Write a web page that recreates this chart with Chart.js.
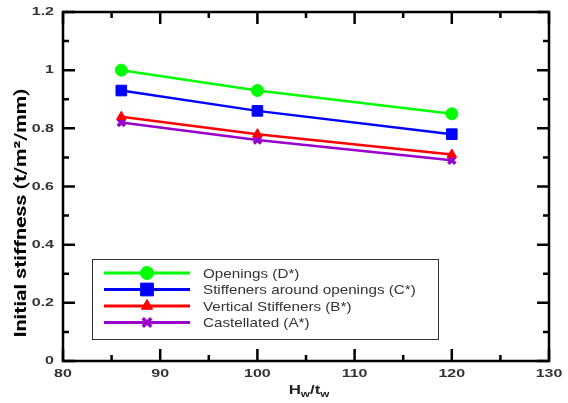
<!DOCTYPE html>
<html>
<head>
<meta charset="utf-8">
<script src="https://cdn.jsdelivr.net/npm/chart.js@4"></script>
<style>
  html, body { margin: 0; padding: 0; background: #fff; }
  #wrap { width: 568px; height: 403px; }
</style>
</head>
<body>
<div id="wrap"><canvas id="myChart" width="568" height="403"></canvas></div>
<script>
// data
const ratios = [86, 100, 120];
const openings = [1.0, 0.93, 0.85];
const stiffAround = [0.93, 0.86, 0.78];
const vertical = [0.84, 0.78, 0.71];
const castellated = [0.82, 0.76, 0.69];

const xTicks = [80, 90, 100, 110, 120, 130];
const yTicks = [0, 0.2, 0.4, 0.6, 0.8, 1, 1.2];

function pts(vals) {
    return ratios.map((x, i) => ({ x: x, y: vals[i] }));
}

function series(label, vals, color, style, radius) {
    return {
        label: label,
        data: pts(vals),
        borderColor: color,
        backgroundColor: color,
        pointBackgroundColor: color,
        pointBorderColor: color,
        pointStyle: style,
        pointRadius: radius,
        pointBorderWidth: style === 'crossRot' ? 3.5 : 1,
        borderWidth: 2.5,
        tension: 0
    };
}

// text squeezed / stretched to a given width (the reference is stretched sideways)
function wideText(ctx, text, x, y, sx, align) {
    ctx.save();
    ctx.translate(x, y);
    ctx.scale(sx, 1);
    ctx.textAlign = align;
    ctx.fillText(text, 0, 0);
    ctx.restore();
}

// frame, inward ticks, labels, axis titles, legend
const framePlugin = {
    id: 'frame',
    afterDatasetsDraw(chart) {
        const ctx = chart.ctx;
        const a = chart.chartArea;
        const xs = chart.scales.x, ys = chart.scales.y;
        ctx.save();
        ctx.strokeStyle = '#000';
        ctx.lineWidth = 2.5;
        ctx.strokeRect(a.left, a.top, a.right - a.left, a.bottom - a.top);

        ctx.beginPath();
        for (let v = 80; v <= 130; v += 5) {
            const px = xs.getPixelForValue(v);
            const len = v % 10 === 0 ? 12 : 6;
            ctx.moveTo(px, a.bottom); ctx.lineTo(px, a.bottom - len);
            ctx.moveTo(px, a.top); ctx.lineTo(px, a.top + len);
        }
        for (let i = 0; i <= 12; i++) {
            const py = ys.getPixelForValue(i / 10);
            const len = i % 2 === 0 ? 12 : 6;
            ctx.moveTo(a.left, py); ctx.lineTo(a.left + len, py);
            ctx.moveTo(a.right, py); ctx.lineTo(a.right - len, py);
        }
        ctx.stroke();

        // tick labels
        ctx.fillStyle = '#333';
        ctx.font = 'bold 10px "Liberation Sans", Arial, sans-serif';
        ctx.textBaseline = 'middle';
        xTicks.forEach(v => {
            wideText(ctx, String(v), xs.getPixelForValue(v), 374, 1.6, 'center');
        });
        yTicks.forEach(v => {
            wideText(ctx, String(v), 54, ys.getPixelForValue(v) + 0.5, 1.6, 'right');
        });

        // y title
        ctx.fillStyle = '#000';
        ctx.font = 'bold 17px Roboto, "Noto Sans", sans-serif';
        ctx.textBaseline = 'middle';
        const yTitle = 'Initial stiffness (t/m\u00b2/mm)';
        const tw = ctx.measureText(yTitle).width;
        ctx.save();
        ctx.translate(22, 213);
        ctx.rotate(-Math.PI / 2);
        ctx.scale(249 / tw, 1);
        ctx.textAlign = 'center';
        ctx.fillText(yTitle, 0, 0);
        ctx.restore();

        // x title with subscripts
        const cx = 309;
        const big = 'bold 13px "Liberation Sans", Arial, sans-serif';
        const small = 'bold 9px "Liberation Sans", Arial, sans-serif';
        const parts = [['H', big, 0], ['w', small, 3], ['/t', big, 0], ['w', small, 3]];
        const sx = 1.3;
        let total = 0;
        parts.forEach(p => { ctx.font = p[1]; total += ctx.measureText(p[0]).width * sx; });
        let x = cx - total / 2;
        ctx.textBaseline = 'alphabetic';
        ctx.fillStyle = '#222';
        parts.forEach(p => {
            ctx.font = p[1];
            wideText(ctx, p[0], x, 394 + p[2], sx, 'left');
            x += ctx.measureText(p[0]).width * sx;
        });

        // legend box
        const lx = 92, ly = 259, lw = 346, lh = 80;
        ctx.fillStyle = '#fff';
        ctx.fillRect(lx, ly, lw, lh);
        ctx.strokeStyle = '#333';
        ctx.lineWidth = 1;
        ctx.strokeRect(lx + 0.5, ly + 0.5, lw, lh);
        const legendR = [6.5, 9, 6.5, 6];
        chart.data.datasets.forEach((ds, i) => {
            const y = ly + 14 + i * 16.5;
            ctx.strokeStyle = ds.borderColor;
            ctx.lineWidth = 3;
            ctx.beginPath();
            ctx.moveTo(lx + 12, y); ctx.lineTo(lx + 98, y);
            ctx.stroke();
            ctx.fillStyle = ds.backgroundColor;
            ctx.lineWidth = ds.pointBorderWidth;
            if (Chart.helpers && Chart.helpers.drawPoint) {
                Chart.helpers.drawPoint(ctx, {
                    pointStyle: ds.pointStyle,
                    radius: legendR[i],
                    rotation: 0,
                    borderWidth: ds.pointBorderWidth
                }, lx + 55, y);
            }
            ctx.fillStyle = '#333';
            ctx.font = '13px "Liberation Sans", Arial, sans-serif';
            ctx.textBaseline = 'middle';
            wideText(ctx, ds.label, lx + 111, y + 1, 1.17, 'left');
        });
        ctx.restore();
    }
};

const dogChart = new Chart(document.getElementById('myChart'), {
    type: 'line',
    data: {
        datasets: [
            series('Openings (D*)', openings, '#00ff00', 'circle', 6),
            series('Stiffeners around openings (C*)', stiffAround, '#0000ff', 'rect', 7.5),
            series('Vertical Stiffeners (B*)', vertical, '#ff0000', 'triangle', 5.5),
            series('Castellated (A*)', castellated, '#9900cc', 'crossRot', 5)
        ]
    },
    options: {
        responsive: false,
        animation: false,
        layout: { padding: { top: 12, right: 19, left: 0, bottom: 0 } },
        plugins: {
            legend: { display: false },
            tooltip: { enabled: false }
        },
        scales: {
            x: {
                type: 'linear',
                min: 80,
                max: 130,
                afterBuildTicks: s => { s.ticks = xTicks.map(v => ({ value: v })); },
                afterFit: s => { s.height = 42; },
                grid: { display: false, drawTicks: false, tickLength: 0 },
                border: { display: false },
                ticks: { display: false }
            },
            y: {
                min: 0,
                max: 1.2,
                afterBuildTicks: s => { s.ticks = yTicks.map(v => ({ value: v })); },
                afterFit: s => { s.width = 63; },
                grid: { display: false, drawTicks: false, tickLength: 0 },
                border: { display: false },
                ticks: { display: false }
            }
        }
    },
    plugins: [framePlugin]
});
</script>
</body>
</html>
